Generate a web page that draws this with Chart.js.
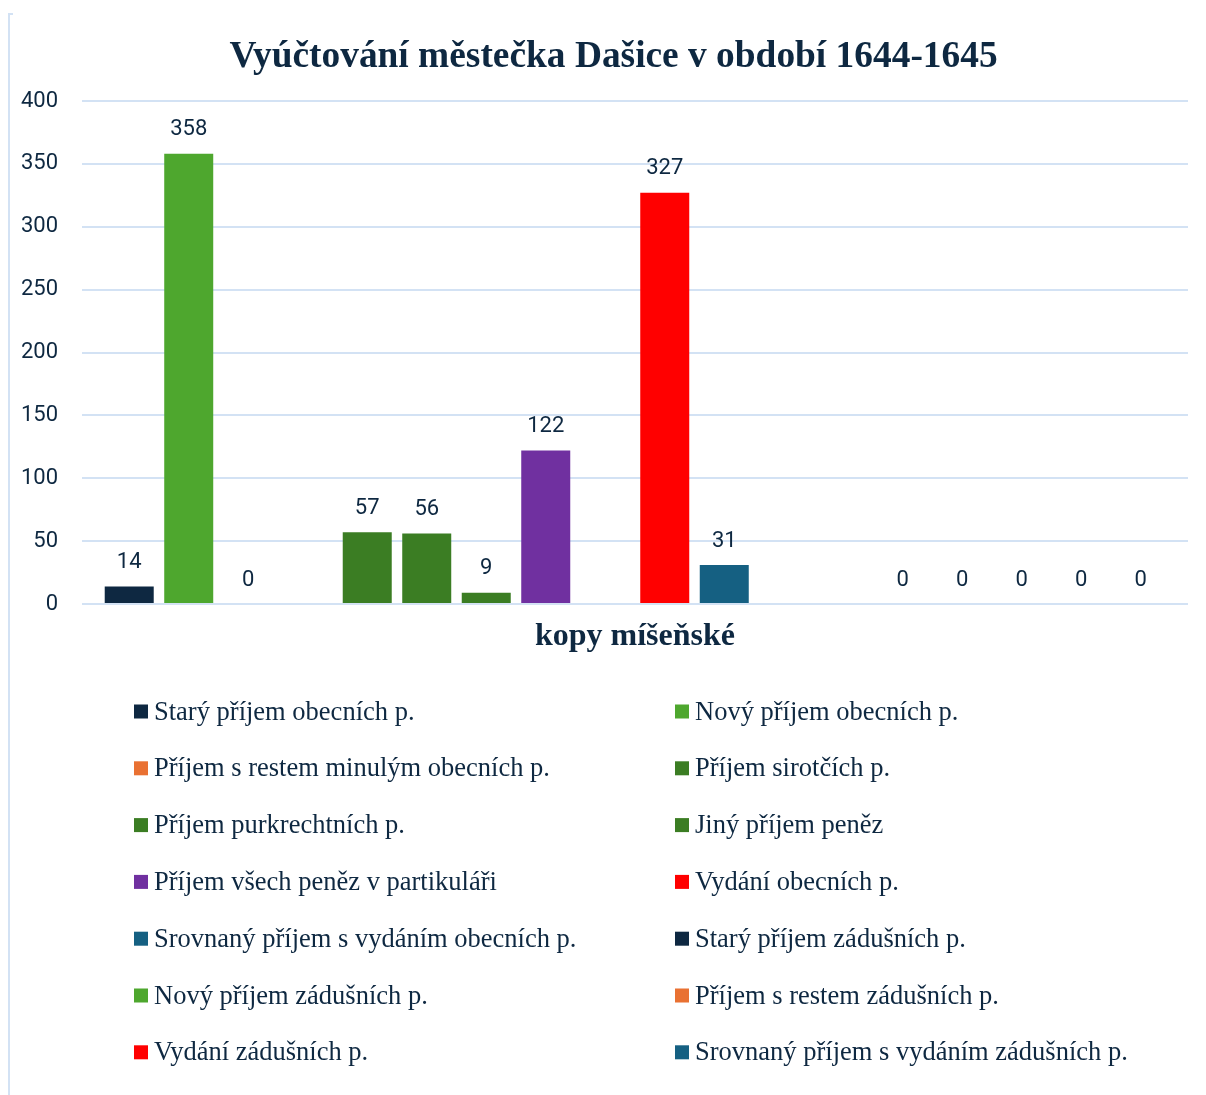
<!DOCTYPE html>
<html lang="cs">
<head>
<meta charset="utf-8">
<title>Vyúčtování městečka Dašice v období 1644-1645</title>
<script src="https://cdn.jsdelivr.net/npm/chart.js@4.4.1/dist/chart.umd.min.js"></script>
<style>
  html, body { margin: 0; padding: 0; background: #fff; }
  #wrap { position: relative; width: 1206px; height: 1095px; overflow: hidden; }
  #ramecek { position: absolute; left: 8px; top: 13px; width: 3px; height: 1100px;
             border-left: 2px solid #d3e2f4; border-top: 2px solid #d3e2f4; }
  canvas { position: absolute; left: 0; top: 0; }
</style>
</head>
<body>
<div id="wrap">
  <div id="ramecek"></div>
  <canvas id="graf" width="1206" height="1095"></canvas>
</div>
<script>
const nadpis = 'Vyúčtování městečka Dašice v období 1644-1645';
const kategorie = ['kopy míšeňské'];

// prázdné řady ('') drží mezery mezi skupinami, v legendě se nezobrazují
const nazvyRad = [
  'Starý příjem obecních p.',
  'Nový příjem obecních p.',
  'Příjem s restem minulým obecních p.',
  '',
  'Příjem sirotčích p.',
  'Příjem purkrechtních p.',
  'Jiný příjem peněz',
  'Příjem všech peněz v partikuláři',
  '',
  'Vydání obecních p.',
  'Srovnaný příjem s vydáním obecních p.',
  '',
  '',
  'Starý příjem zádušních p.',
  'Nový příjem zádušních p.',
  'Příjem s restem zádušních p.',
  'Vydání zádušních p.',
  'Srovnaný příjem s vydáním zádušních p.'
];
const hodnoty = [14, 358, 0, null, 57, 56, 9, 122, null, 327, 31, null, null, 0, 0, 0, 0, 0];
const barvy = [
  '#0e2841', '#4ea72e', '#e97132', 'rgba(0,0,0,0)',
  '#3b7d23', '#3b7d23', '#3b7d23', '#7030a0', 'rgba(0,0,0,0)',
  '#ff0000', '#156082', 'rgba(0,0,0,0)', 'rgba(0,0,0,0)',
  '#0e2841', '#4ea72e', '#e97132', '#ff0000', '#156082'
];
const osaMin = 0, osaMax = 400, osaKrok = 50;

const barvaTextu = '#0e2841';
const pismoSerif = '"Liberation Serif", "Times New Roman", serif';
const pismoSans = 'Roboto, "Open Sans", sans-serif';

// nadpis, popisky hodnot a legenda ve dvou sloupcích
const popiskyPlugin = {
  id: 'popisky',
  afterDraw(chart) {
    const ctx = chart.ctx;
    ctx.save();

    ctx.fillStyle = barvaTextu;
    ctx.font = 'bold 37.4px ' + pismoSerif;
    ctx.textAlign = 'center';
    ctx.textBaseline = 'alphabetic';
    ctx.fillText(nadpis, 613.5, 67);

    ctx.font = '22px ' + pismoSans;
    ctx.textBaseline = 'middle';
    chart.data.datasets.forEach((ds, i) => {
      if (ds.data[0] === null) return;
      const bar = chart.getDatasetMeta(i).data[0];
      ctx.fillText(String(ds.data[0]), bar.x, bar.y - 24);
    });

    ctx.font = '26.5px ' + pismoSerif;
    ctx.textAlign = 'left';
    ctx.textBaseline = 'alphabetic';
    const polozky = chart.data.datasets.filter(ds => ds.label);
    polozky.forEach((ds, i) => {
      const x = i % 2 === 0 ? 134 : 675;
      const y = 711.5 + Math.floor(i / 2) * 56.8;
      ctx.fillStyle = ds.backgroundColor;
      ctx.fillRect(x, y - 7, 14, 14);
      ctx.fillStyle = barvaTextu;
      ctx.fillText(ds.label, x + 20, y + 8);
    });
    ctx.restore();
  }
};

const ctx = document.getElementById('graf').getContext('2d');
const graf = new Chart(ctx, {
  type: 'bar',
  data: {
    labels: kategorie,
    datasets: nazvyRad.map((nazev, i) => ({
      label: nazev,
      data: [hodnoty[i]],
      backgroundColor: barvy[i],
      borderWidth: 0,
      categoryPercentage: 0.9684,
      barPercentage: 0.8235
    }))
  },
  options: {
    responsive: false,
    animation: false,
    devicePixelRatio: 1,
    layout: { padding: { top: 101, right: 18, bottom: 431, left: 0 } },
    plugins: {
      legend: { display: false },
      title: { display: false },
      tooltip: { enabled: false }
    },
    scales: {
      x: {
        grid: { display: false, drawTicks: false },
        border: { display: false },
        ticks: {
          color: barvaTextu,
          padding: 14,
          font: { family: pismoSerif, size: 32, weight: 'bold' }
        },
        afterFit(scale) { scale.height = 60; }
      },
      y: {
        min: osaMin,
        max: osaMax,
        grid: { color: '#d3e2f4', lineWidth: 2, drawTicks: false },
        border: { display: false },
        ticks: {
          stepSize: osaKrok,
          color: barvaTextu,
          padding: 24,
          font: { family: pismoSans, size: 22 }
        },
        afterFit(scale) { scale.width = 82; }
      }
    }
  },
  plugins: [popiskyPlugin]
});
</script>
</body>
</html>
